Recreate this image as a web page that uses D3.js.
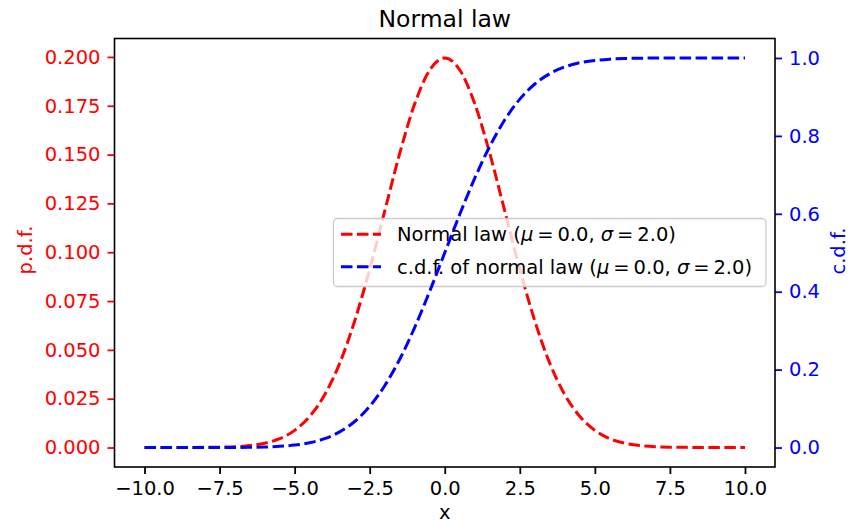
<!DOCTYPE html>
<html>
<head>
<meta charset="utf-8">
<script src="https://cdn.jsdelivr.net/npm/d3@7"></script>
<style>
  body { margin: 0; background: #fff; }
  text { font-family: "DejaVu Sans", sans-serif; }
</style>
</head>
<body>
<svg width="849" height="523"></svg>
<script>
var svg = d3.select('svg'),
    width = +svg.attr('width'),
    height = +svg.attr('height');

// x values, every 0.5
var xs = [-10, -9.5, -9, -8.5, -8, -7.5, -7, -6.5, -6, -5.5, -5, -4.5, -4, -3.5, -3, -2.5, -2, -1.5, -1, -0.5,
          0, 0.5, 1, 1.5, 2, 2.5, 3, 3.5, 4, 4.5, 5, 5.5, 6, 6.5, 7, 7.5, 8, 8.5, 9, 9.5, 10];

var pdfValues = [0.0000, 0.0000, 0.0000, 0.0000, 0.0001, 0.0002, 0.0004, 0.0010, 0.0022, 0.0045,
                 0.0088, 0.0159, 0.0270, 0.0431, 0.0648, 0.0913, 0.1210, 0.1506, 0.1760, 0.1933,
                 0.1995,
                 0.1933, 0.1760, 0.1506, 0.1210, 0.0913, 0.0648, 0.0431, 0.0270, 0.0159, 0.0088,
                 0.0045, 0.0022, 0.0010, 0.0004, 0.0002, 0.0001, 0.0000, 0.0000, 0.0000, 0.0000];

var cdfValues = [0.0000, 0.0000, 0.0000, 0.0000, 0.0000, 0.0001, 0.0002, 0.0006, 0.0013, 0.0030,
                 0.0062, 0.0122, 0.0228, 0.0401, 0.0668, 0.1056, 0.1587, 0.2266, 0.3085, 0.4013,
                 0.5000,
                 0.5987, 0.6915, 0.7734, 0.8413, 0.8944, 0.9332, 0.9599, 0.9772, 0.9878, 0.9938,
                 0.9970, 0.9987, 0.9994, 0.9998, 0.9999, 1.0000, 1.0000, 1.0000, 1.0000, 1.0000];

var xTicks = [-10, -7.5, -5, -2.5, 0, 2.5, 5, 7.5, 10];
var pdfTicks = [0, 0.025, 0.05, 0.075, 0.1, 0.125, 0.15, 0.175, 0.2];
var cdfTicks = [0, 0.2, 0.4, 0.6, 0.8, 1.0];

var seriesLabels = ['Normal law', 'c.d.f. of normal law'];

var plotLeft = 114.5, plotRight = 775, plotTop = 38.5, plotBottom = 467;

var x = d3.scaleLinear().domain([-11, 11]).range([plotLeft, plotRight]);
var yPdf = d3.scaleLinear().domain([-0.00997, 0.20944]).range([plotBottom, plotTop]);
var yCdf = d3.scaleLinear().domain([-0.05, 1.05]).range([plotBottom, plotTop]);

var minus = function(s) { return s.replace('-', '\u2212'); };

svg.append('defs').append('clipPath').attr('id', 'plot')
    .append('rect').attr('x', plotLeft).attr('y', plotTop)
    .attr('width', plotRight - plotLeft).attr('height', plotBottom - plotTop);

// title
svg.append('text')
    .attr('x', (plotLeft + plotRight) / 2).attr('y', 27)
    .attr('text-anchor', 'middle')
    .style('font-size', '23.5px')
    .text('Normal law');

function styleAxis(g, color) {
    g.selectAll('.domain').remove();
    g.selectAll('.tick line').attr('stroke', color).attr('stroke-width', 1.8);
    g.selectAll('.tick text').attr('fill', color)
        .style('font-size', '19.5px')
        .style('font-family', '"DejaVu Sans", sans-serif');
}

// bottom axis
svg.append('g')
    .attr('transform', 'translate(0,' + plotBottom + ')')
    .call(d3.axisBottom(x).tickValues(xTicks).tickSize(7).tickPadding(6)
        .tickFormat(function(d) { return minus(d3.format('.1f')(d)); }))
    .call(function(g) { styleAxis(g, '#000'); g.selectAll('.tick text').attr('dy', '0.75em'); });

// left axis
svg.append('g')
    .attr('transform', 'translate(' + plotLeft + ',0)')
    .call(d3.axisLeft(yPdf).tickValues(pdfTicks).tickSize(7).tickPadding(7)
        .tickFormat(d3.format('.3f')))
    .call(function(g) { styleAxis(g, 'red'); });

// right axis
svg.append('g')
    .attr('transform', 'translate(' + plotRight + ',0)')
    .call(d3.axisRight(yCdf).tickValues(cdfTicks).tickSize(7).tickPadding(7)
        .tickFormat(d3.format('.1f')))
    .call(function(g) { styleAxis(g, 'blue'); });

// axis labels
svg.append('text')
    .attr('transform', 'translate(32,250) rotate(-90)')
    .attr('text-anchor', 'middle')
    .attr('fill', 'red')
    .style('font-size', '19.5px')
    .text('p.d.f.');

svg.append('text')
    .attr('transform', 'translate(845,251) rotate(-90)')
    .attr('text-anchor', 'middle')
    .attr('fill', 'blue')
    .style('font-size', '19.5px')
    .text('c.d.f.');

svg.append('text')
    .attr('x', (plotLeft + plotRight) / 2).attr('y', 519)
    .attr('text-anchor', 'middle')
    .style('font-size', '19.5px')
    .text('x');

var pdfLine = d3.line()
    .x(function(d, i) { return x(xs[i]); })
    .y(function(d) { return yPdf(d); })
    .curve(d3.curveMonotoneX);

var cdfLine = d3.line()
    .x(function(d, i) { return x(xs[i]); })
    .y(function(d) { return yCdf(d); })
    .curve(d3.curveMonotoneX);

// p.d.f. line (first axes)
svg.append('path')
    .datum(pdfValues)
    .attr('clip-path', 'url(#plot)')
    .attr('d', pdfLine)
    .attr('fill', 'none')
    .attr('stroke', 'red')
    .attr('stroke-width', 3)
    .attr('stroke-dasharray', '11.5,4.5');

// legend lives on the first axes, so it covers the red line only
var legend = svg.append('g');
legend.append('rect')
    .attr('x', 333.5).attr('y', 218.5)
    .attr('width', 432.5).attr('height', 68)
    .attr('rx', 4)
    .attr('fill', 'rgba(255,255,255,0.8)')
    .attr('stroke', '#cccccc')
    .attr('stroke-width', 1.3);

var colors = ['red', 'blue'];
var rows = legend.selectAll('g.row')
    .data(seriesLabels)
    .enter().append('g')
        .attr('class', 'row')
        .attr('transform', function(d, i) { return 'translate(0,' + (234.3 + i * 32.4) + ')'; });

rows.append('line')
    .attr('x1', 341).attr('x2', 381)
    .attr('stroke', function(d, i) { return colors[i]; })
    .attr('stroke-width', 3)
    .attr('stroke-dasharray', '11.5,4.5');

var label = rows.append('text')
    .attr('x', 397).attr('y', 7)
    .style('font-size', '19.5px');
label.append('tspan').text(function(d) { return d + ' ('; });
label.append('tspan').style('font-style', 'italic').text('\u03bc');
label.append('tspan').text('\u2009=\u20090.0, ');
label.append('tspan').style('font-style', 'italic').text('\u03c3');
label.append('tspan').text('\u2009=\u20092.0)');

// c.d.f. line (twin axes, drawn on top)
svg.append('path')
    .datum(cdfValues)
    .attr('clip-path', 'url(#plot)')
    .attr('d', cdfLine)
    .attr('fill', 'none')
    .attr('stroke', 'blue')
    .attr('stroke-width', 3)
    .attr('stroke-dasharray', '11.5,4.5');

// frame
svg.append('rect')
    .attr('x', plotLeft).attr('y', plotTop)
    .attr('width', plotRight - plotLeft).attr('height', plotBottom - plotTop)
    .attr('fill', 'none')
    .attr('stroke', '#000')
    .attr('stroke-width', 1.6);
</script>
</body>
</html>
